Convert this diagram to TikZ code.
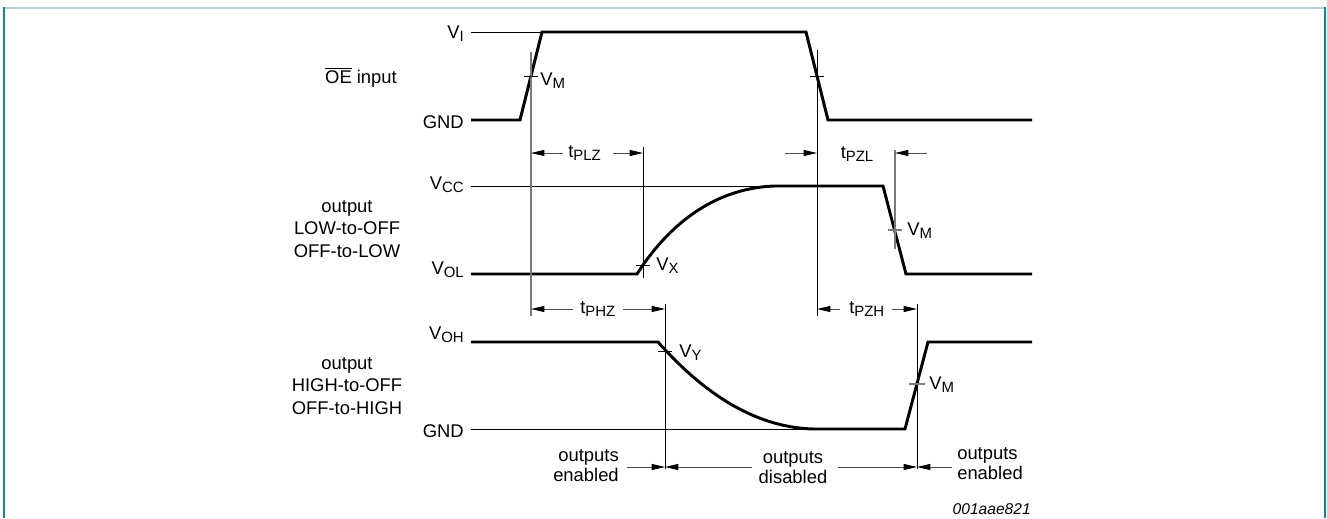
\documentclass[tikz,border=0pt]{standalone}
\usepackage{fontspec}
\setmainfont{Liberation Sans}
\usetikzlibrary{arrows.meta}
\newcommand\lsub[1]{\raisebox{-2.5pt}{\fontsize{11.2}{11.2}\selectfont #1}}
\definecolor{framelt}{HTML}{B4D3D8}
\definecolor{frameteal}{HTML}{16868C}
\definecolor{mgray}{HTML}{7A7A7A}
\begin{document}
\begin{tikzpicture}[x=0.75pt,y=-0.75pt,
  wave/.style={line width=2.2pt,line join=miter,line cap=butt},
  ref/.style={line width=0.75pt},
  vline/.style={line width=0.75pt},
  gvline/.style={line width=0.9pt,draw=mgray},
  dim/.style={line width=0.75pt,draw=black!70,-{Triangle[length=10pt,width=4.5pt,color=black]}},
  lbl/.style={font=\fontsize{13.8}{16.7}\selectfont,inner sep=0pt},
  olbl/.style={font=\fontsize{13.8}{15}\selectfont,inner sep=0pt},
]
\useasboundingbox (0,0) rectangle (1327,518);
% frame
\draw[framelt,line width=1.5pt] (3.5,7.7) -- (1326,7.7);
\draw[frameteal,line width=1.3pt] (4.3,7) -- (4.3,518);
\draw[frameteal,line width=1.3pt] (1325.3,7) -- (1325.3,518);

% level labels
\node[lbl,anchor=base east] (vi) at (464,38) {V\lsub{I}};
\node[lbl,anchor=base east] (gnd1) at (464,128) {GND};
\node[lbl,anchor=base east] (vcc) at (464,189) {V\lsub{CC}};
\node[lbl,anchor=base east] (vol) at (464,274) {V\lsub{OL}};
\node[lbl,anchor=base east] (voh) at (464,339) {V\lsub{OH}};
\node[lbl,anchor=base east] (gnd2) at (464,437.5) {GND};

% signal names
\node[lbl,anchor=base] (oe) at (361,83) {$\overline{\mbox{OE}}$ input};
\node[lbl,align=center] (grp1) at (347,229) {output\\LOW-to-OFF\\OFF-to-LOW};
\node[lbl,align=center] (grp2) at (347,386) {output\\HIGH-to-OFF\\OFF-to-HIGH};

% reference levels
\draw[ref] (471,32) -- (542,32);
\draw[ref] (471,186) -- (775,186);
\draw[ref] (471,429) -- (815,429);

% waveforms
\draw[wave] (471,120) -- (520,120) -- (542,32) -- (806,32) -- (828,120) -- (1032,120);
\draw[wave] (471,274) -- (637,274) .. controls (665,230) and (710,188) .. (775,186) -- (883,186) -- (906,274) -- (1032,274);
\draw[wave] (471,342) -- (658,342) .. controls (685,372) and (740,428) .. (815,429) -- (905,429) -- (928,342) -- (1032,342);

% vertical measurement lines
\coordinate (xA) at (531,0);
\coordinate (xB) at (643,0);
\coordinate (xC) at (817,0);
\coordinate (xD) at (895,0);
\coordinate (xE) at (665,0);
\coordinate (xF) at (917,0);
\draw[gvline] (531,52) -- (531,316);
\draw[vline] (817,50) -- (817,316);
\draw[vline] (643,147) -- (643,278);
\draw[gvline] (895,150) -- (895,249);
\draw[vline] (665,304) -- (665,469);
\draw[vline] (917,304) -- (917,469);

% ticks
\draw[ref] (524,76) -- (538,76);
\draw[ref] (810,76) -- (824,76);
\draw[ref] (636,265) -- (650,265);
\draw[gvline] (888,230) -- (902,230);
\draw[ref] (658,351) -- (672,351);
\draw[gvline] (909,384) -- (925,384);

% tick labels
\node[lbl,anchor=base west] (vm1) at (540,85) {V\lsub{M}};
\node[lbl,anchor=base west] (vx) at (656,270) {V\lsub{X}};
\node[lbl,anchor=base west] (vm2) at (907,235) {V\lsub{M}};
\node[lbl,anchor=base west] (vy) at (679,357) {V\lsub{Y}};
\node[lbl,anchor=base west] (vm3) at (929,389) {V\lsub{M}};

% timing labels
\node[lbl,anchor=base west] (tplz) at (568,157) {t\lsub{PLZ}};
\coordinate (plzL) at (563,153);
\coordinate (plzR) at (613,153);
\draw[dim] (plzL) -- (plzL -| xA);
\draw[dim] (plzR) -- (plzR -| xB);

\node[lbl,anchor=base west] (tpzl) at (840.5,158) {t\lsub{PZL}};
\coordinate (pzlL) at (785,153);
\coordinate (pzlR) at (927,153);
\draw[dim] (pzlL) -- (pzlL -| xC);
\draw[dim] (pzlR) -- (pzlR -| xD);

\node[lbl,anchor=base west] (tphz) at (580,313) {t\lsub{PHZ}};
\coordinate (phzL) at (573,309);
\coordinate (phzR) at (623,309);
\draw[dim] (phzL) -- (phzL -| xA);
\draw[dim] (phzR) -- (phzR -| xE);

\node[lbl,anchor=base west] (tpzh) at (849,313) {t\lsub{PZH}};
\coordinate (pzhL) at (840,309);
\coordinate (pzhR) at (892,309);
\draw[dim] (pzhL) -- (pzhL -| xC);
\draw[dim] (pzhR) -- (pzhR -| xF);

% output state labels
\node[olbl,align=right,anchor=east] (oen1) at (619,466) {outputs\\enabled};
\node[olbl,align=center] (odis) at (793,468) {outputs\\disabled};
\node[olbl,align=left,anchor=west] (oen2) at (957,464) {outputs\\enabled};
\coordinate (e1) at (627,467);
\coordinate (d1) at (752,467);
\coordinate (d2) at (838,467);
\coordinate (e2) at (952,467);
\draw[dim] (e1) -- (e1 -| xE);
\draw[dim] (d1) -- (d1 -| xE);
\draw[dim] (d2) -- (d2 -| xF);
\draw[dim] (e2) -- (e2 -| xF);

\node[font=\fontsize{11.7}{12}\selectfont\itshape,inner sep=0pt,anchor=base east] (code) at (1031,514) {001aae821};
\end{tikzpicture}
\end{document}
